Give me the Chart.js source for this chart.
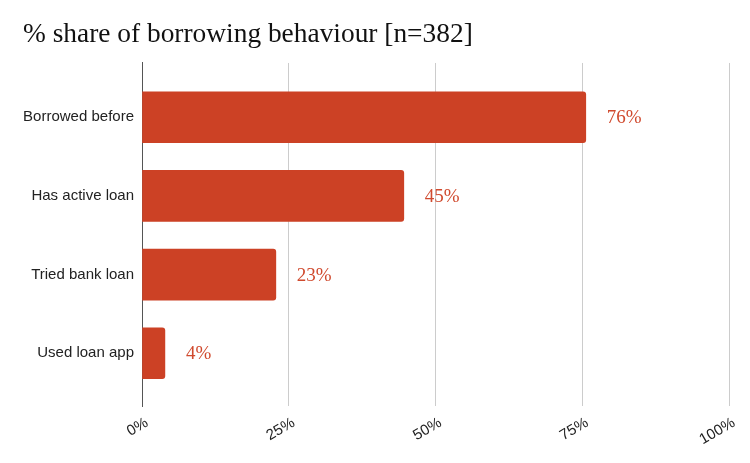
<!DOCTYPE html>
<html>
<head>
<meta charset="utf-8">
<script src="https://cdn.jsdelivr.net/npm/chart.js@4"></script>
<style>
  html, body { margin: 0; padding: 0; background: #fff; }
  #wrap { width: 750px; height: 463px; }
</style>
</head>
<body>
<div id="wrap"><canvas id="chart"></canvas></div>
<script>
const categories = ['Borrowed before', 'Has active loan', 'Tried bank loan', 'Used loan app'];
const shares     = [75.6, 44.6, 22.8, 3.9];
const xTicks     = [0, 25, 50, 75, 100];

const barRed = '#cc4125';

// value labels drawn just past the end of each bar
const valueLabels = {
  id: 'valueLabels',
  afterDatasetsDraw(chart) {
    const ctx = chart.ctx;
    const meta = chart.getDatasetMeta(0);
    ctx.save();
    ctx.font = '19px "Liberation Serif", serif';
    ctx.fillStyle = '#d04a2e';
    ctx.textAlign = 'left';
    ctx.textBaseline = 'middle';
    meta.data.forEach((bar, i) => {
      ctx.fillText(Math.round(shares[i]) + '%', bar.x + 21, bar.y + 1);
    });
    ctx.restore();
  }
};

new Chart(document.getElementById('chart'), {
  type: 'bar',
  data: {
    datasets: [{
      data: shares.map((v, i) => ({ x: v, y: i })),
      backgroundColor: barRed,
      borderRadius: { topRight: 3, bottomRight: 3 },
      borderSkipped: 'start',
      barThickness: 51
    }]
  },
  options: {
    indexAxis: 'y',
    responsive: true,
    maintainAspectRatio: false,
    animation: false,
    layout: { padding: { left: 23, right: 21, top: 0, bottom: 0 } },
    plugins: {
      legend: { display: false },
      tooltip: { enabled: false },
      title: {
        display: true,
        text: '% share of borrowing behaviour [n=382]',
        align: 'start',
        color: '#111',
        font: { family: '"Liberation Serif", serif', size: 27.4, weight: 'normal' },
        padding: { top: 18, bottom: 12.1 }
      }
    },
    scales: {
      x: {
        type: 'linear',
        min: 0,
        max: 100,
        afterBuildTicks: s => { s.ticks = xTicks.map(v => ({ value: v })); },
        afterFit: s => { s.height = 57; },
        grid: { color: '#cccccc', drawTicks: false },
        border: { display: false },
        ticks: {
          callback: v => v + '%',
          minRotation: 30,
          maxRotation: 30,
          padding: 8,
          labelOffset: 5,
          color: '#222',
          font: { family: '"Liberation Sans", Arial, sans-serif', size: 15 }
        }
      },
      y: {
        type: 'linear',
        offset: false,
        reverse: true,
        min: -0.69,
        max: 3.67,
        afterBuildTicks: s => { s.ticks = categories.map((c, i) => ({ value: i })); },
        afterFit: s => { s.width = 142 - 23; },
        grid: { display: false, drawTicks: false, offset: false },
        border: { display: true, color: '#555', width: 1 },
        ticks: {
          callback: v => categories[v] ?? '',
          padding: 8,
          color: '#222',
          font: { family: '"Liberation Sans", Arial, sans-serif', size: 15 }
        }
      }
    }
  },
  plugins: [valueLabels]
});
</script>
</body>
</html>
